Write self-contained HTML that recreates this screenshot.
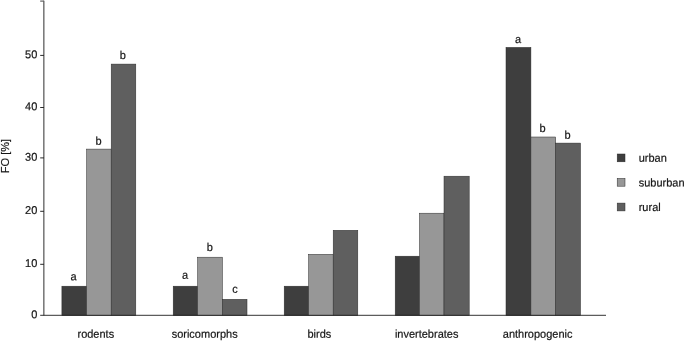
<!DOCTYPE html>
<html><head><meta charset="utf-8"><title>chart</title>
<style>html,body{margin:0;padding:0;background:#fff}svg{display:block}text{font-family:"Liberation Sans",Arial,sans-serif;font-size:11px;fill:#151515;stroke:#151515;stroke-width:0.2px}</style></head>
<body>
<svg width="685" height="341" viewBox="0 0 685 341">
<rect width="685" height="341" fill="#fff"/>
<rect x="61.9" y="286.2" width="24.7" height="29.2" fill="#3e3e3e" stroke="#2a2a2a" stroke-width="0.5"/>
<rect x="86.6" y="149.1" width="24.6" height="166.3" fill="#979797" stroke="#2a2a2a" stroke-width="0.5"/>
<rect x="111.2" y="64.1" width="24.6" height="251.3" fill="#5f5f5f" stroke="#2a2a2a" stroke-width="0.5"/>
<rect x="173.2" y="286.2" width="24.4" height="29.2" fill="#3e3e3e" stroke="#2a2a2a" stroke-width="0.5"/>
<rect x="197.6" y="257.2" width="24.8" height="58.2" fill="#979797" stroke="#2a2a2a" stroke-width="0.5"/>
<rect x="222.4" y="299.3" width="24.6" height="16.1" fill="#5f5f5f" stroke="#2a2a2a" stroke-width="0.5"/>
<rect x="284.2" y="286.2" width="24.4" height="29.2" fill="#3e3e3e" stroke="#2a2a2a" stroke-width="0.5"/>
<rect x="308.6" y="254.3" width="24.6" height="61.1" fill="#979797" stroke="#2a2a2a" stroke-width="0.5"/>
<rect x="333.2" y="230.3" width="24.6" height="85.1" fill="#5f5f5f" stroke="#2a2a2a" stroke-width="0.5"/>
<rect x="395.2" y="256.2" width="24.3" height="59.2" fill="#3e3e3e" stroke="#2a2a2a" stroke-width="0.5"/>
<rect x="419.5" y="213.2" width="24.5" height="102.2" fill="#979797" stroke="#2a2a2a" stroke-width="0.5"/>
<rect x="444.0" y="176.2" width="25.2" height="139.2" fill="#5f5f5f" stroke="#2a2a2a" stroke-width="0.5"/>
<rect x="506.0" y="47.4" width="24.9" height="268.0" fill="#3e3e3e" stroke="#2a2a2a" stroke-width="0.5"/>
<rect x="530.9" y="137.0" width="24.8" height="178.4" fill="#979797" stroke="#2a2a2a" stroke-width="0.5"/>
<rect x="555.7" y="143.1" width="24.8" height="172.3" fill="#5f5f5f" stroke="#2a2a2a" stroke-width="0.5"/>
<line x1="43.8" y1="0.8" x2="43.8" y2="315.4" stroke="#7c7c7c" stroke-width="1.6"/>
<text transform="translate(37.3,318.2) rotate(0.03) scale(1,1.03)" text-anchor="end">0</text>
<line x1="40.2" y1="264.3" x2="44.0" y2="264.3" stroke="#2a2a2a" stroke-width="1"/>
<text transform="translate(37.3,267.1) rotate(0.03) scale(1,1.03)" text-anchor="end">10</text>
<line x1="40.2" y1="211.3" x2="44.0" y2="211.3" stroke="#2a2a2a" stroke-width="1"/>
<text transform="translate(37.3,214.1) rotate(0.03) scale(1,1.03)" text-anchor="end">20</text>
<line x1="40.2" y1="157.9" x2="44.0" y2="157.9" stroke="#2a2a2a" stroke-width="1"/>
<text transform="translate(37.3,160.7) rotate(0.03) scale(1,1.03)" text-anchor="end">30</text>
<line x1="40.2" y1="107.5" x2="44.0" y2="107.5" stroke="#2a2a2a" stroke-width="1"/>
<text transform="translate(37.3,110.3) rotate(0.03) scale(1,1.03)" text-anchor="end">40</text>
<line x1="40.2" y1="55.4" x2="44.0" y2="55.4" stroke="#2a2a2a" stroke-width="1"/>
<text transform="translate(37.3,58.2) rotate(0.03) scale(1,1.03)" text-anchor="end">50</text>
<line x1="40.2" y1="1.1" x2="44.0" y2="1.1" stroke="#606060" stroke-width="1.2"/>
<line x1="40.2" y1="315.3" x2="606" y2="315.3" stroke="#1c1c1c" stroke-width="0.9"/>
<text transform="translate(73.5,280.2) rotate(0.03) scale(1,1.03)" text-anchor="middle">a</text>
<text transform="translate(98.5,144.7) rotate(0.03) scale(1,1.03)" text-anchor="middle">b</text>
<text transform="translate(122.9,59.1) rotate(0.03) scale(1,1.03)" text-anchor="middle">b</text>
<text transform="translate(185.1,278.8) rotate(0.03) scale(1,1.03)" text-anchor="middle">a</text>
<text transform="translate(209.9,251.0) rotate(0.03) scale(1,1.03)" text-anchor="middle">b</text>
<text transform="translate(235.0,292.8) rotate(0.03) scale(1,1.03)" text-anchor="middle">c</text>
<text transform="translate(518.0,43.0) rotate(0.03) scale(1,1.03)" text-anchor="middle">a</text>
<text transform="translate(542.6,132.1) rotate(0.03) scale(1,1.03)" text-anchor="middle">b</text>
<text transform="translate(567.6,138.7) rotate(0.03) scale(1,1.03)" text-anchor="middle">b</text>
<text transform="translate(95.8,337.7) rotate(0.03) scale(1,1.03)" text-anchor="middle">rodents</text>
<text transform="translate(204.65,337.7) rotate(0.03) scale(1,1.03)" text-anchor="middle">soricomorphs</text>
<text transform="translate(319.4,337.7) rotate(0.03) scale(1,1.03)" text-anchor="middle">birds</text>
<text transform="translate(426.65,337.7) rotate(0.03) scale(1,1.03)" text-anchor="middle">invertebrates</text>
<text transform="translate(537.6,337.7) rotate(0.03) scale(1,1.03)" text-anchor="middle">anthropogenic</text>
<rect x="617.2" y="154" width="7.8" height="7.8" fill="#3e3e3e" stroke="#2a2a2a" stroke-width="0.5"/>
<text transform="translate(638.7,161.7) rotate(0.03) scale(1,1.03)">urban</text>
<rect x="617.2" y="178.4" width="7.8" height="7.8" fill="#979797" stroke="#2a2a2a" stroke-width="0.5"/>
<text transform="translate(638.7,186.5) rotate(0.03) scale(1,1.03)">suburban</text>
<rect x="617.2" y="203.1" width="7.8" height="7.8" fill="#5f5f5f" stroke="#2a2a2a" stroke-width="0.5"/>
<text transform="translate(638.7,210.9) rotate(0.03) scale(1,1.03)">rural</text>
<text transform="translate(9.1,173.2) rotate(-90) scale(1,1.04)">FO [%]</text>
</svg>
</body></html>
